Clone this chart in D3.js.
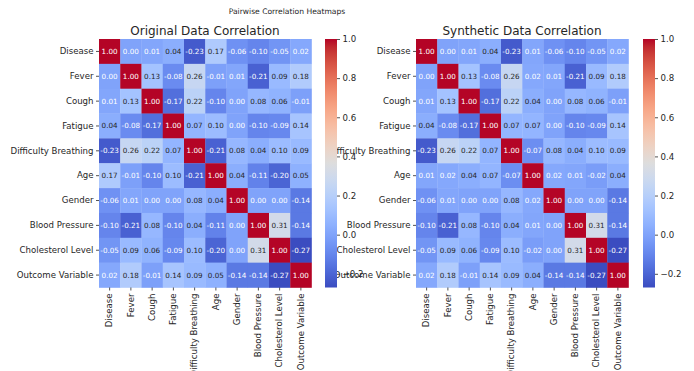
<!DOCTYPE html>
<html>
<head>
<meta charset="utf-8">
<script src="https://cdn.jsdelivr.net/npm/d3@7"></script>
<style>
  body { margin: 0; background: #fff; }
  svg { display: block; font-family: "DejaVu Sans", sans-serif; }
</style>
</head>
<body>
<div class="canvas"></div>
<script>
const variables = ["Disease", "Fever", "Cough", "Fatigue", "Difficulty Breathing",
  "Age", "Gender", "Blood Pressure", "Cholesterol Level", "Outcome Variable"];

const originalCorr = [
  [1.00, -0.00, 0.01, 0.04, -0.23, 0.17, -0.06, -0.10, -0.05, 0.02],
  [-0.00, 1.00, 0.13, -0.08, 0.26, -0.01, 0.01, -0.21, 0.09, 0.18],
  [0.01, 0.13, 1.00, -0.17, 0.22, -0.10, 0.00, 0.08, 0.06, -0.01],
  [0.04, -0.08, -0.17, 1.00, 0.07, 0.10, 0.00, -0.10, -0.09, 0.14],
  [-0.23, 0.26, 0.22, 0.07, 1.00, -0.21, 0.08, 0.04, 0.10, 0.09],
  [0.17, -0.01, -0.10, 0.10, -0.21, 1.00, 0.04, -0.11, -0.20, 0.05],
  [-0.06, 0.01, 0.00, 0.00, 0.08, 0.04, 1.00, 0.00, -0.00, -0.14],
  [-0.10, -0.21, 0.08, -0.10, 0.04, -0.11, 0.00, 1.00, 0.31, -0.14],
  [-0.05, 0.09, 0.06, -0.09, 0.10, -0.20, -0.00, 0.31, 1.00, -0.27],
  [0.02, 0.18, -0.01, 0.14, 0.09, 0.05, -0.14, -0.14, -0.27, 1.00]
];

const syntheticCorr = [
  [1.00, -0.00, 0.01, 0.04, -0.23, 0.01, -0.06, -0.10, -0.05, 0.02],
  [-0.00, 1.00, 0.13, -0.08, 0.26, 0.02, 0.01, -0.21, 0.09, 0.18],
  [0.01, 0.13, 1.00, -0.17, 0.22, 0.04, 0.00, 0.08, 0.06, -0.01],
  [0.04, -0.08, -0.17, 1.00, 0.07, 0.07, 0.00, -0.10, -0.09, 0.14],
  [-0.23, 0.26, 0.22, 0.07, 1.00, -0.07, 0.08, 0.04, 0.10, 0.09],
  [0.01, 0.02, 0.04, 0.07, -0.07, 1.00, 0.02, 0.01, -0.02, 0.04],
  [-0.06, 0.01, 0.00, 0.00, 0.08, 0.02, 1.00, 0.00, -0.00, -0.14],
  [-0.10, -0.21, 0.08, -0.10, 0.04, 0.01, 0.00, 1.00, 0.31, -0.14],
  [-0.05, 0.09, 0.06, -0.09, 0.10, -0.02, -0.00, 0.31, 1.00, -0.27],
  [0.02, 0.18, -0.01, 0.14, 0.09, 0.04, -0.14, -0.14, -0.27, 1.00]
];

const colorbarTicks = [-0.2, 0.0, 0.2, 0.4, 0.6, 0.8, 1.0];
const vmin = -0.27, vmax = 1.0;

// coolwarm (Moreland) control points
const cwStops = [
  [59,76,192],[68,90,204],[77,104,215],[87,117,225],[98,130,234],[108,142,241],
  [119,154,247],[130,165,251],[141,176,254],[152,185,255],[163,194,255],[174,201,253],
  [184,208,249],[194,213,244],[204,217,238],[213,219,230],[221,221,221],[229,216,209],
  [236,211,197],[241,204,185],[245,196,173],[247,187,160],[247,177,148],[247,166,135],
  [244,154,123],[241,141,111],[236,127,99],[229,112,88],[222,96,77],[213,80,66],
  [203,62,56],[192,40,47],[180,4,38]
].map(c => d3.rgb(c[0], c[1], c[2]).formatHex());

const coolwarm = d3.scaleLinear()
  .domain(cwStops.map((c, i) => i / (cwStops.length - 1)))
  .range(cwStops)
  .interpolate(d3.interpolateRgb)
  .clamp(true);

const norm = d3.scaleLinear().domain([vmin, vmax]).range([0, 1]);
const color = v => coolwarm(norm(v));

// seaborn-style annotation colour from luminance
const textColor = (c) => {
  const rgb = d3.rgb(c);
  const lin = [rgb.r, rgb.g, rgb.b].map(v => {
    v /= 255;
    return v <= 0.03928 ? v / 12.92 : Math.pow((v + 0.055) / 1.055, 2.4);
  });
  const lum = 0.2126 * lin[0] + 0.7152 * lin[1] + 0.0722 * lin[2];
  return lum > 0.408 ? "#262626" : "#ffffff";
};

const W = 694, H = 371;
const yTop = 39, yBottom = 287.5;
const tickFont = 8.6;

const svg = d3.select(".canvas").append("svg")
  .attr("width", W).attr("height", H);

svg.append("text")
  .attr("x", 287).attr("y", 13.5)
  .attr("text-anchor", "middle")
  .attr("font-size", 7.6).attr("fill", "#262626")
  .text("Pairwise Correlation Heatmaps");

// gradient for the colorbars
const defs = svg.append("defs");
const grad = defs.append("linearGradient").attr("id", "cw")
  .attr("x1", 0).attr("y1", 1).attr("x2", 0).attr("y2", 0);
cwStops.forEach((c, i) => {
  grad.append("stop").attr("offset", i / (cwStops.length - 1)).attr("stop-color", c);
});

const panels = [
  { title: "Original Data Correlation", data: originalCorr, x0: 99, cbarX: 325 },
  { title: "Synthetic Data Correlation", data: syntheticCorr, x0: 416, cbarX: 643 }
];

const fmt = d3.format(".2f");

const styleAxis = (a) => {
  a.select(".domain").remove();
  a.selectAll("line").attr("stroke", "#262626").attr("stroke-width", 0.8);
  a.selectAll("text").attr("fill", "#262626").attr("font-size", tickFont)
    .attr("font-family", "DejaVu Sans, sans-serif");
};

// heatmaps first
panels.forEach(p => {
  const x = d3.scaleBand().domain(variables).range([p.x0, p.x0 + 212.5]);
  const y = d3.scaleBand().domain(variables).range([yTop, yBottom]);

  const g = svg.append("g");

  const cells = [];
  p.data.forEach((row, i) => row.forEach((v, j) => {
    cells.push({ r: variables[i], c: variables[j], v: v });
  }));

  g.selectAll("rect.cell").data(cells).enter().append("rect")
    .attr("class", "cell")
    .attr("x", d => x(d.c))
    .attr("y", d => y(d.r))
    .attr("width", x.bandwidth() + 0.3)
    .attr("height", y.bandwidth() + 0.3)
    .attr("fill", d => color(d.v));

  g.selectAll("text.annot").data(cells).enter().append("text")
    .attr("class", "annot")
    .attr("x", d => x(d.c) + x.bandwidth() / 2)
    .attr("y", d => y(d.r) + y.bandwidth() / 2)
    .attr("text-anchor", "middle")
    .attr("dominant-baseline", "central")
    .attr("font-size", 7.2)
    .attr("fill", d => textColor(color(d.v)))
    .text(d => fmt(d.v).replace("−", "-"));

  const yAxis = svg.append("g")
    .attr("transform", `translate(${p.x0},0)`)
    .call(d3.axisLeft(y).tickSize(3).tickPadding(2.5));
  const xAxis = svg.append("g")
    .attr("transform", `translate(0,${yBottom})`)
    .call(d3.axisBottom(x).tickSize(3).tickPadding(2.5));
  xAxis.selectAll("text")
    .attr("transform", "rotate(-90)")
    .attr("text-anchor", "end")
    .attr("dy", "0.32em")
    .attr("x", -6)
    .attr("y", 0);
  styleAxis(yAxis);
  styleAxis(xAxis);

  svg.append("text")
    .attr("x", p.x0 + 106).attr("y", 34.5)
    .attr("text-anchor", "middle")
    .attr("font-size", 12).attr("fill", "#262626")
    .text(p.title);
});

// colorbars on top
panels.forEach(p => {
  const cbScale = d3.scaleLinear().domain([vmin, vmax]).range([yBottom, yTop]);
  svg.append("rect")
    .attr("x", p.cbarX).attr("y", yTop)
    .attr("width", 12).attr("height", yBottom - yTop)
    .attr("fill", "url(#cw)");
  const cAxis = svg.append("g")
    .attr("transform", `translate(${p.cbarX + 12},0)`)
    .call(d3.axisRight(cbScale).tickValues(colorbarTicks)
      .tickFormat(d3.format(".1f")).tickSize(3).tickPadding(2.5));
  styleAxis(cAxis);
});
</script>
</body>
</html>
